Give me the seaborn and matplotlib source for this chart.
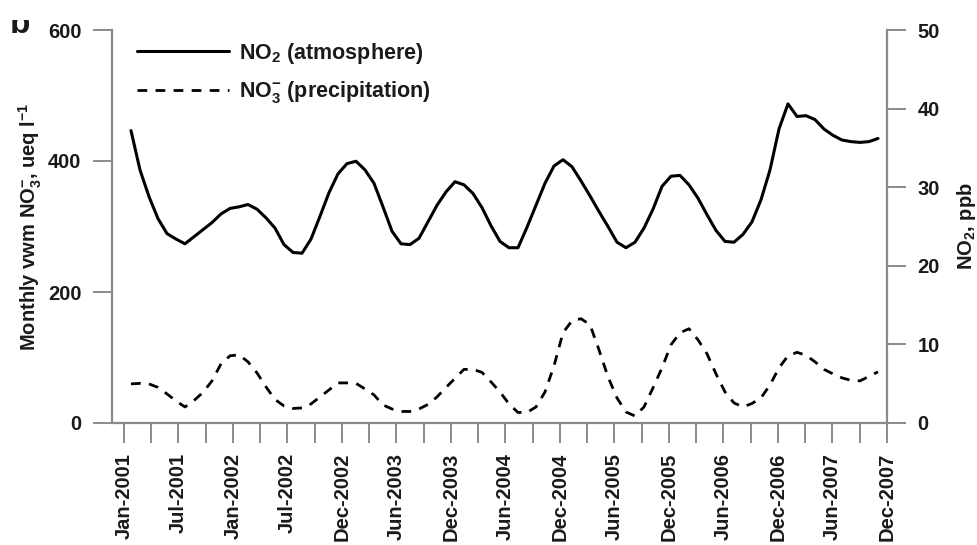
import numpy as np
import pandas as pd
import matplotlib
matplotlib.use("Agg")
import matplotlib.pyplot as plt
from matplotlib.transforms import Bbox
import seaborn as sns

# ---------------- data ----------------
tick_labels = ['Jan-2001', 'Jul-2001', 'Jan-2002', 'Jul-2002', 'Dec-2002', 'Jun-2003',
               'Dec-2003', 'Jun-2004', 'Dec-2004', 'Jun-2005', 'Dec-2005', 'Jun-2006',
               'Dec-2006', 'Jun-2007', 'Dec-2007']

months = pd.date_range('2001-01-01', '2007-12-01', freq='MS').strftime('%b-%Y').tolist()

# NO2 (atmosphere), ppb, right axis
no2_ppb = [37.2, 32.2, 28.8, 26.0, 24.1, 23.4, 22.8, 23.7, 24.6, 25.5, 26.6, 27.3,
           27.5, 27.8, 27.2, 26.1, 24.8, 22.7, 21.7, 21.6, 23.4, 26.3, 29.3, 31.7,
           33.0, 33.3, 32.2, 30.5, 27.5, 24.4, 22.8, 22.7, 23.5, 25.6, 27.7, 29.4,
           30.7, 30.3, 29.2, 27.4, 25.1, 23.1, 22.3, 22.3, 24.9, 27.7, 30.5, 32.7,
           33.5, 32.6, 30.8, 28.9, 26.9, 25.0, 23.0, 22.3, 23.0, 24.8, 27.2, 30.1,
           31.4, 31.5, 30.3, 28.6, 26.5, 24.5, 23.1, 23.0, 24.0, 25.6, 28.4, 32.2,
           37.4, 40.6, 39.0, 39.1, 38.6, 37.4, 36.6, 36.0, 35.8, 35.7, 35.8, 36.2]

# NO3- (precipitation), monthly vwm ueq/l, left axis
no3_ueq = [59.7, 60.5, 59.7, 54.3, 44.4, 33.7, 24.5, 34.4, 46.7, 64.3, 90.3, 102.6,
           104.1, 93.4, 76.5, 55.1, 36.0, 26.0, 22.2, 23.0, 29.1, 39.8, 50.5, 61.2,
           61.2, 60.5, 52.0, 42.9, 27.6, 21.4, 17.6, 17.6, 21.4, 28.3, 39.8, 54.3,
           68.1, 81.9, 81.9, 77.3, 62.8, 47.4, 29.1, 16.1, 16.1, 24.5, 47.4, 87.2,
           137.8, 156.1, 159.2, 150.0, 111.7, 70.4, 38.3, 16.8, 10.7, 24.5, 53.6, 84.2,
           119.4, 137.8, 143.9, 127.0, 105.6, 75.0, 47.4, 30.6, 24.5, 29.8, 38.3, 58.2,
           84.2, 102.6, 107.9, 103.3, 93.4, 81.9, 75.0, 68.9, 65.1, 64.3, 71.2, 78.1]

df = pd.DataFrame({'month': months, 'idx': np.arange(len(months)),
                   'no2': no2_ppb, 'no3': no3_ueq})

# ---------------- style ----------------
sns.set_style('ticks')
plt.rcParams['font.family'] = ['Liberation Sans', 'DejaVu Sans']
plt.rcParams['font.weight'] = 'bold'
plt.rcParams['mathtext.fontset'] = 'custom'
plt.rcParams['mathtext.rm'] = 'Liberation Sans:bold'
plt.rcParams['mathtext.bf'] = 'Liberation Sans:bold'
plt.rcParams['mathtext.it'] = 'Liberation Sans:bold'
plt.rcParams['mathtext.default'] = 'bf'

spine_c = '#8a8a8a'
text_c = '#1a1a1a'
fs = 14.5
fl = 14.5
fleg = 15.5

fig = plt.figure(figsize=(9.78, 5.45), dpi=100)
ax = fig.add_axes([112/978, 1 - 423/545, (887 - 112)/978, (423 - 30)/545])
ax2 = ax.twinx()

sns.lineplot(data=df, x='idx', y='no3', ax=ax, color='black', linewidth=2.0,
             linestyle='--')
ln_no3 = ax.lines[-1]
ln_no3.set_dashes([3.5, 3.0])

sns.lineplot(data=df, x='idx', y='no2', ax=ax2, color='black', linewidth=2.2)
ln_no2 = ax2.lines[-1]

ax.set_ylim(0, 600)
ax2.set_ylim(0, 50)
ax.set_xlim(-2.11, 84.0)

xt = np.linspace(-0.78, 84.0, 29)
xl = []
for k in range(29):
    xl.append(tick_labels[k // 2] if k % 2 == 0 else '')
ax.set_xticks(xt)
ax.set_xticklabels(xl, rotation=90, fontsize=fs, fontweight='bold', color=text_c)

ax.set_yticks([0, 200, 400, 600])
ax2.set_yticks([0, 10, 20, 30, 40, 50])
for a in (ax, ax2):
    a.tick_params(axis='both', which='major', length=14, width=1.4, color=spine_c,
                  labelsize=fs, labelcolor=text_c, pad=8)
    for lab in a.get_yticklabels():
        lab.set_fontweight('bold')
    a.spines['top'].set_visible(False)
    for s in ('left', 'right', 'bottom'):
        a.spines[s].set_color(spine_c)
        a.spines[s].set_linewidth(1.6)
ax.tick_params(axis='x', length=14.5, pad=7)
ax.spines['right'].set_visible(False)
ax2.spines['left'].set_visible(False)
ax2.spines['bottom'].set_visible(False)

ax.set_xlabel('')
ax.set_ylabel('Monthly vwm NO$_3^{-}$, ueq l$^{-1}$', fontsize=fl, fontweight='bold',
              color=text_c, labelpad=3)
ax2.set_ylabel('NO$_2$, ppb', fontsize=fl, fontweight='bold', color=text_c, labelpad=11)

leg = ax.legend(handles=[ln_no2, ln_no3],
                labels=['NO$_2$ (atmosphere)', 'NO$_3^{-}$ (precipitation)'],
                loc='upper left', bbox_to_anchor=(126/978, 1 - 30/545),
                bbox_transform=fig.transFigure, frameon=False, borderpad=0,
                handlelength=4.3, handletextpad=0.45, labelspacing=0.62,
                prop={'size': fleg, 'weight': 'bold'})
for t in leg.get_texts():
    t.set_color(text_c)

# panel letter (only the lower part visible, as in the source crop)
pl = fig.text(10/978, 1 - 33/545, 'b', fontsize=24, fontweight='bold', color=text_c,
              ha='left', va='baseline')
pl.set_clip_box(Bbox.from_extents(0, 0, 60, 545 - 20))
pl.set_clip_on(True)

fig.savefig('out.png', dpi=100)
